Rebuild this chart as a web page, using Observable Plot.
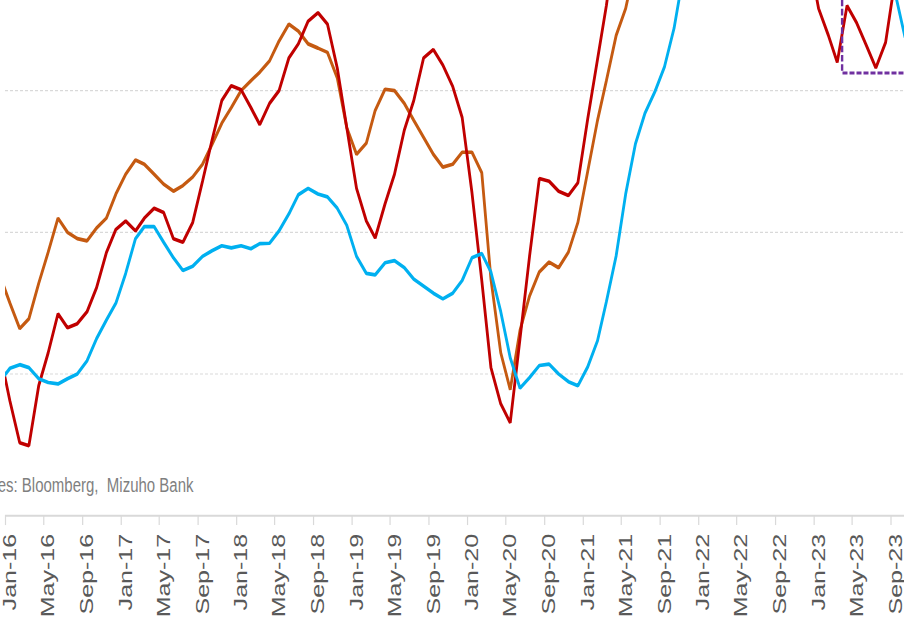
<!DOCTYPE html>
<html>
<head>
<meta charset="utf-8">
<script src="https://cdn.jsdelivr.net/npm/d3@7"></script>
<script src="https://cdn.jsdelivr.net/npm/@observablehq/plot@0.6"></script>
<style>
  html, body { margin: 0; padding: 0; background: #fff; overflow: hidden; width: 904px; height: 624px; }
  #chart svg { display: block; }
</style>
</head>
<body>
<div id="chart"></div>
<script>
// x-axis tick labels (every 4 months)
const tickLabels = [
  "Jan-16","May-16","Sep-16","Jan-17","May-17","Sep-17","Jan-18","May-18","Sep-18",
  "Jan-19","May-19","Sep-19","Jan-20","May-20","Sep-20","Jan-21","May-21","Sep-21",
  "Jan-22","May-22","Sep-22","Jan-23","May-23","Sep-23"
];

// Monthly observations, first month = Dec-2015, last = Oct-2023
const firstYear = 2015, firstMonthIndex = 11;

const seriesRed = [
  1.14,
  0.81, 0.515, 0.494, 0.917, 1.15, 1.425, 1.327, 1.355, 1.44, 1.61, 1.856, 2.02,
  2.08, 2.01, 2.10, 2.17, 2.14, 1.955, 1.93, 2.07, 2.36, 2.65, 2.93, 3.035,
  3.006, 2.88, 2.76, 2.91, 3.0, 3.23, 3.33, 3.49, 3.55, 3.47, 3.16, 2.74,
  2.31, 2.08, 1.96, 2.20, 2.41, 2.72, 2.93, 3.23, 3.29, 3.18, 3.03, 2.81,
  2.28, 1.66, 1.045, 0.79, 0.656, 1.25, 1.83, 2.38, 2.36, 2.29, 2.26, 2.35,
  2.80, 3.22, 3.6, 4.1, 4.6, 5.0, 5.3, 5.5, 5.8, 6.2, 6.4, 6.5,
  6.7, 6.9, 7.3, 7.2, 7.0, 6.8, 6.2, 5.7, 5.2, 4.8, 4.3, 3.95,
  3.58, 3.39, 3.20, 3.6, 3.48, 3.32, 3.16, 3.34, 3.8, 4.1
];

const seriesOrange = [
  1.69,
  1.50, 1.32, 1.39, 1.64, 1.86, 2.10, 2.0, 1.955, 1.94, 2.03, 2.10, 2.27,
  2.41, 2.51, 2.48, 2.41, 2.34, 2.29, 2.33, 2.39, 2.48, 2.62, 2.77, 2.88,
  3.0, 3.07, 3.13, 3.21, 3.35, 3.47, 3.42, 3.33, 3.30, 3.27, 3.09, 2.74,
  2.55, 2.63, 2.86, 3.01, 3.0, 2.91, 2.79, 2.67, 2.55, 2.46, 2.48, 2.565,
  2.565, 2.42, 1.67, 1.15, 0.89, 1.31, 1.55, 1.72, 1.79, 1.75, 1.86, 2.07,
  2.43, 2.79, 3.07, 3.39, 3.58, 3.9, 4.2, 4.4, 4.7, 5.0, 5.3, 5.5,
  5.8, 6.0, 6.4, 6.5, 6.6, 6.7, 6.5, 6.3, 6.0, 5.6, 5.2, 4.9,
  4.6, 4.4, 4.3, 4.2, 4.1, 4.0, 3.95, 3.9, 3.9, 3.85
];

const seriesBlue = [
  0.95,
  1.04, 1.066, 1.045, 0.967, 0.94, 0.93, 0.967, 1.0, 1.094, 1.25, 1.38, 1.50,
  1.71, 1.955, 2.04, 2.04, 1.93, 1.82, 1.73, 1.76, 1.83, 1.87, 1.905, 1.89,
  1.905, 1.884, 1.92, 1.923, 2.01, 2.13, 2.265, 2.31, 2.27, 2.25, 2.17, 2.05,
  1.83, 1.71, 1.70, 1.785, 1.80, 1.75, 1.67, 1.62, 1.57, 1.53, 1.57, 1.66,
  1.82, 1.85, 1.72, 1.44, 1.115, 0.90, 0.975, 1.06, 1.07, 1.0, 0.946, 0.917,
  1.05, 1.235, 1.51, 1.835, 2.27, 2.625, 2.84, 2.99, 3.17, 3.44, 3.84, 4.2,
  4.5, 4.8, 5.3, 5.6, 5.9, 6.3, 6.5, 6.6, 6.8, 6.9, 6.7, 6.6,
  6.4, 6.2, 5.9, 5.6, 5.2, 4.8, 4.4, 4.0, 3.68, 3.38
];

const seriesKeys = ["Series 1", "Series 2", "Series 3"];
const seriesColors = ["#c55a11", "#c00000", "#00b0f0"];
const gridValues = [1, 2, 3];
const caption = "Sources: Bloomberg,  Mizuho Bank";
const highlight = { start: "2023-04-01", end: "2024-06-01", floor: 3.12, top: 6 };

// ---- build tables ----
const dates = seriesRed.map((_, i) => new Date(Date.UTC(firstYear, firstMonthIndex + i, 15)));
const seriesValues = { "Series 1": seriesOrange, "Series 2": seriesRed, "Series 3": seriesBlue };
const rows = [];
for (const key of seriesKeys) {
  seriesValues[key].forEach((v, i) => rows.push({ series: key, date: dates[i], value: v }));
}
const parseTick = d3.utcParse("%b-%y");
const ticks = tickLabels.map(label => ({ label, date: parseTick(label) }));
const hl = [{ x1: new Date(highlight.start), x2: new Date(highlight.end), y1: highlight.floor, y2: highlight.top }];

const W = 904, H = 473, DISPLAY_H = 624;
const x0 = new Date(Date.UTC(2016, 0, 1));
const x1 = new Date(Date.UTC(2023, 8, 1) + 42.7 * 864e5);

const chart = Plot.plot({
  width: W,
  height: H,
  marginTop: 0,
  marginBottom: 82.6,
  marginLeft: 5,
  marginRight: 0,
  x: { type: "utc", domain: [x0, x1], axis: null },
  y: { domain: [0, 3.635], axis: null },
  color: { type: "ordinal", domain: seriesKeys, range: seriesColors },
  style: { fontFamily: "'Liberation Sans', Arial, sans-serif", background: "white", color: "#595959" },
  marks: [
    Plot.ruleY(gridValues, { stroke: "#d9d9d9", strokeWidth: 0.9, strokeDasharray: "3,2" }),
    Plot.ruleY([0], { stroke: "#d9d9d9", strokeWidth: 1.5 }),
    Plot.ruleX(ticks, { x: "date", y1: () => 0, y2: () => -0.0708, stroke: "#d9d9d9", strokeWidth: 1.2 }),
    Plot.text(ticks, {
      x: "date", y: () => 0, text: "label", rotate: -90,
      textAnchor: "end", lineAnchor: "middle", dy: 13.7, dx: 4.5,
      fontSize: 19, fill: "#595959"
    }),
    Plot.text([caption], {
      frameAnchor: "bottom-left", text: d => d, textAnchor: "end", lineAnchor: "bottom",
      dx: 188, dy: -17.6, fontSize: 15, fill: "#7f7f7f"
    }),
    Plot.line(rows, {
      x: "date", y: "value", z: "series", stroke: "series",
      strokeWidth: 2.8, strokeLinejoin: "miter", clip: true
    }),
    Plot.rect(hl, {
      x1: "x1", x2: "x2", y1: "y1", y2: "y2",
      fill: "none", stroke: "#7030a0", strokeWidth: 2.4, strokeDasharray: "5,2", clip: true
    })
  ]
});

chart.setAttribute("preserveAspectRatio", "none");
chart.setAttribute("height", DISPLAY_H);
chart.style.width = W + "px";
chart.style.height = DISPLAY_H + "px";
chart.style.maxWidth = "none";
document.getElementById("chart").appendChild(chart);
</script>
</body>
</html>
